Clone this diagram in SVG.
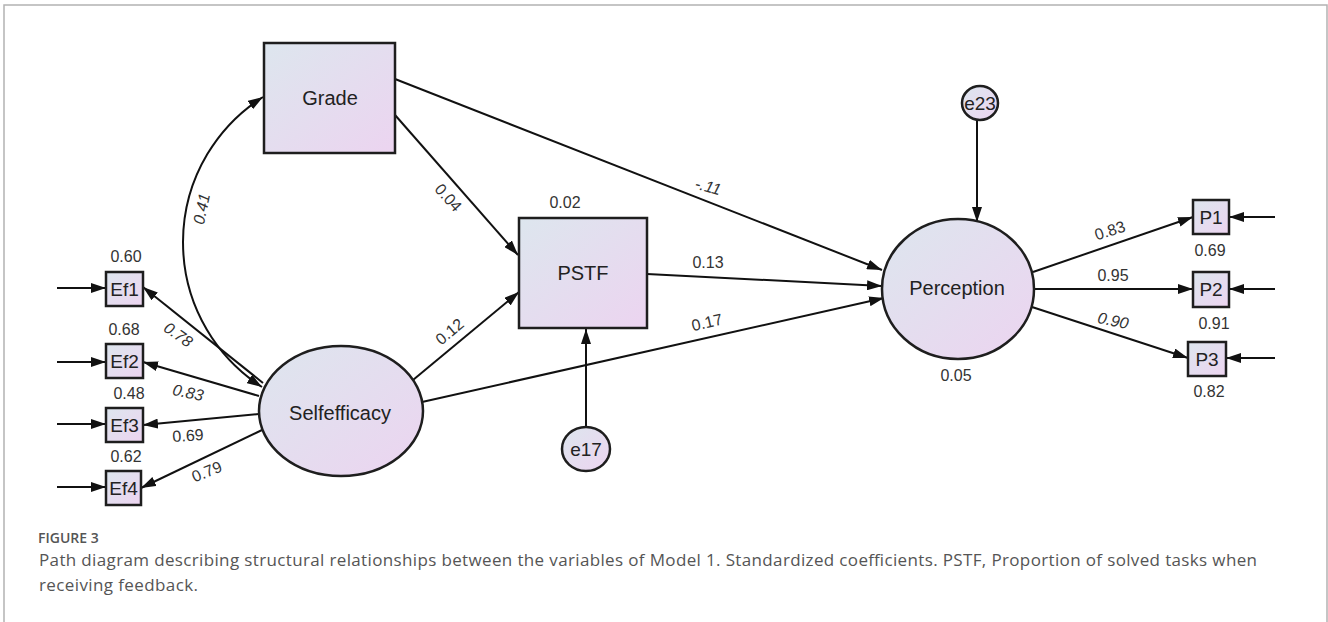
<svg xmlns="http://www.w3.org/2000/svg" width="1328" height="622" viewBox="0 0 1328 622">
<style>
.nd{stroke:#1e1e1e;stroke-width:2.5;fill:url(#g)}
.cn{stroke:#111;stroke-width:2;fill:none}
.t{font-family:"Liberation Sans",Arial,sans-serif;fill:#222;text-anchor:middle}
.big{font-size:20px}
.box{font-size:19px}
.lb{font-size:16px;fill:#333}
.it{font-style:italic}
.cap{font-family:"Open Sans","Lato",sans-serif;fill:#555}
</style>
<defs>
<linearGradient id="g" x1="0" y1="0" x2="1" y2="1">
<stop offset="0" stop-color="#dde6ee"/>
<stop offset="1" stop-color="#ecd4f0"/>
</linearGradient>
<marker id="ah" viewBox="0 0 15 10" refX="15" refY="5" markerWidth="15" markerHeight="10" markerUnits="userSpaceOnUse" orient="auto-start-reverse">
<path d="M0,0 L15,5 L0,10 z" fill="#111"/>
</marker>
</defs>
<rect width="1328" height="622" fill="#fff"/>
<g id="frame" stroke="#b3b3b3" stroke-width="1.5" fill="none">
<path d="M4,622 V5 H1327 V622"/>
</g>
<g id="connectors">
<path class="cn" d="M262,387 A172,172 0 0 1 263,97" marker-start="url(#ah)" marker-end="url(#ah)"/>
<line class="cn" x1="395" y1="79" x2="882" y2="270" marker-end="url(#ah)"/>
<line class="cn" x1="395" y1="115" x2="518" y2="255" marker-end="url(#ah)"/>
<line class="cn" x1="647" y1="274" x2="882" y2="286" marker-end="url(#ah)"/>
<line class="cn" x1="413" y1="380" x2="519" y2="292" marker-end="url(#ah)"/>
<line class="cn" x1="422" y1="402" x2="884" y2="298" marker-end="url(#ah)"/>
<line class="cn" x1="586" y1="427" x2="586" y2="329" marker-end="url(#ah)"/>
<line class="cn" x1="977" y1="120" x2="977" y2="222" marker-end="url(#ah)"/>
<line class="cn" x1="1033" y1="272" x2="1193" y2="217" marker-end="url(#ah)"/>
<line class="cn" x1="1034" y1="289" x2="1193" y2="289" marker-end="url(#ah)"/>
<line class="cn" x1="1032" y1="307" x2="1188" y2="358" marker-end="url(#ah)"/>
<line class="cn" x1="1275" y1="217" x2="1229" y2="217" marker-end="url(#ah)"/>
<line class="cn" x1="1275" y1="289" x2="1229" y2="289" marker-end="url(#ah)"/>
<line class="cn" x1="1275" y1="358" x2="1226" y2="358" marker-end="url(#ah)"/>
<line class="cn" x1="263" y1="383" x2="143" y2="287" marker-end="url(#ah)"/>
<line class="cn" x1="259" y1="396" x2="143" y2="362" marker-end="url(#ah)"/>
<line class="cn" x1="259" y1="414" x2="143" y2="425" marker-end="url(#ah)"/>
<line class="cn" x1="262" y1="430" x2="141" y2="488" marker-end="url(#ah)"/>
<line class="cn" x1="57" y1="288" x2="106" y2="288" marker-end="url(#ah)"/>
<line class="cn" x1="57" y1="362" x2="106" y2="362" marker-end="url(#ah)"/>
<line class="cn" x1="57" y1="424" x2="106" y2="424" marker-end="url(#ah)"/>
<line class="cn" x1="57" y1="487" x2="106" y2="487" marker-end="url(#ah)"/>
</g>
<g id="connector-labels">
<text class="t lb it" transform="translate(202,209) rotate(-78)" y="5">0.41</text>
<text class="t lb" transform="translate(448,198) rotate(48)" y="5">0.04</text>
<text class="t lb it" transform="translate(708,187) rotate(15)" y="5">-.11</text>
<text class="t lb" x="565" y="208">0.02</text>
<text class="t lb" x="708" y="268">0.13</text>
<text class="t lb" transform="translate(450,332) rotate(-40)" y="5">0.12</text>
<text class="t lb" transform="translate(707,323) rotate(-13)" y="5">0.17</text>
<text class="t lb it" transform="translate(178,335) rotate(35)" y="5">0.78</text>
<text class="t lb it" transform="translate(188,393) rotate(12)" y="5">0.83</text>
<text class="t lb" transform="translate(188,436) rotate(-4)" y="5">0.69</text>
<text class="t lb" transform="translate(207,472) rotate(-22)" y="5">0.79</text>
<text class="t lb" transform="translate(1110,231) rotate(-18)" y="5">0.83</text>
<text class="t lb" x="1113" y="281">0.95</text>
<text class="t lb it" transform="translate(1113,321) rotate(12)" y="5">0.90</text>
</g>
<g id="Grade"><rect class="nd" x="264" y="43" width="131" height="110"/><text class="t big" x="330" y="105">Grade</text></g>
<g id="PSTF"><rect class="nd" x="519" y="218" width="128" height="110"/><text class="t big" x="583" y="280">PSTF</text></g>
<g id="Selfefficacy"><ellipse class="nd" cx="341" cy="411" rx="82" ry="65"/><text class="t big" x="340" y="420">Selfefficacy</text></g>
<g id="Perception"><ellipse class="nd" cx="958" cy="289" rx="76" ry="70"/><text class="t big" x="957" y="295">Perception</text><text class="t lb" x="956" y="381">0.05</text></g>
<g id="e17"><ellipse class="nd" cx="586" cy="449" rx="24" ry="22"/><text class="t box" x="586" y="456">e17</text></g>
<g id="e23"><ellipse class="nd" cx="980" cy="103" rx="18" ry="17"/><text class="t box" x="980" y="110">e23</text></g>
<g id="Ef1"><rect class="nd" x="106" y="272" width="37" height="34"/><text class="t box" x="124.5" y="296">Ef1</text><text class="t lb" x="126" y="262">0.60</text></g>
<g id="Ef2"><rect class="nd" x="106" y="344" width="37" height="34"/><text class="t box" x="124.5" y="368">Ef2</text><text class="t lb" x="124" y="335">0.68</text></g>
<g id="Ef3"><rect class="nd" x="106" y="408" width="37" height="34"/><text class="t box" x="124.5" y="432">Ef3</text><text class="t lb" x="129" y="399">0.48</text></g>
<g id="Ef4"><rect class="nd" x="106" y="471" width="35" height="34"/><text class="t box" x="123.5" y="495">Ef4</text><text class="t lb" x="126" y="462">0.62</text></g>
<g id="P1"><rect class="nd" x="1193" y="200" width="36" height="34"/><text class="t box" x="1211" y="224">P1</text><text class="t lb" x="1210" y="256">0.69</text></g>
<g id="P2"><rect class="nd" x="1193" y="272" width="36" height="35"/><text class="t box" x="1211" y="296">P2</text><text class="t lb" x="1214" y="329">0.91</text></g>
<g id="P3"><rect class="nd" x="1188" y="342" width="38" height="34"/><text class="t box" x="1207" y="366">P3</text><text class="t lb" x="1209" y="397">0.82</text></g>
<g id="caption">
<text class="cap" x="38" y="543" font-size="14" font-weight="600" fill="#6e6e6e">FIGURE 3</text>
<text class="cap" x="39" y="566" font-size="17" textLength="1218" lengthAdjust="spacing">Path diagram describing structural relationships between the variables of Model 1. Standardized coefficients. PSTF, Proportion of solved tasks when</text>
<text class="cap" x="39" y="591" font-size="17" textLength="159" lengthAdjust="spacing">receiving feedback.</text>
</g>
</svg>
